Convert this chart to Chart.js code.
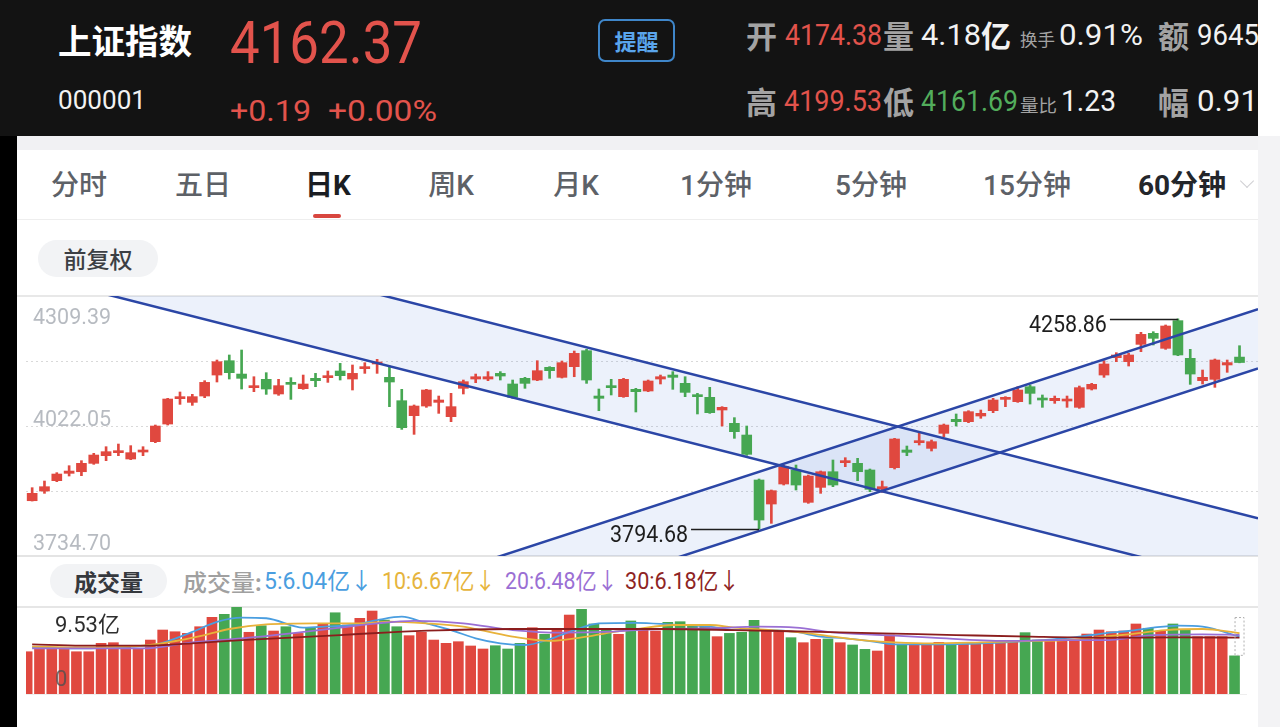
<!DOCTYPE html>
<html>
<head>
<meta charset="utf-8">
<script src="https://cdn.jsdelivr.net/npm/chart.js@4.4.1/dist/chart.umd.min.js"></script>
<style>
  body { margin: 0; width: 1280px; height: 727px; overflow: hidden; background: #fff; position: relative;
         font-family: Roboto, "Noto Sans CJK SC", sans-serif; }
  .a { position: absolute; white-space: nowrap; line-height: 1; transform-origin: 0 50%; }
  .cjk { font-family: "Noto Sans CJK SC", sans-serif; }
  .tab { position: absolute; top: 172px; width: 160px; text-align: center; font-size: 28px; line-height: 28px;
         color: #5d6167; font-weight: 500; }
  .pill { position: absolute; background: #f2f3f5; color: #3c3f44; text-align: center; font-family: "Noto Sans CJK SC"; }
  .hl { position: absolute; left: 17px; width: 1241px; background: #e5e5e5; }
</style>
</head>
<body>

<!-- header -->
<div style="position:absolute;left:0;top:0;width:1258px;height:136px;background:#131313;overflow:hidden">
  <div class="a cjk" data-w="134" style="left:58px;top:23px;font-size:34px;font-weight:700;color:#fff">上证指数</div>
  <div class="a" data-w="192" style="left:230px;top:13px;font-size:60px;color:#e2534c">4162.37</div>
  <div class="a" data-w="88" style="left:58px;top:88px;font-size:25px;color:#f2f2f2">000001</div>
  <div class="a" data-w="81" style="left:230px;top:96px;font-size:30px;color:#e2534c">+0.19</div>
  <div class="a" data-w="109" style="left:328px;top:96px;font-size:30px;color:#e2534c">+0.00%</div>
  <div style="position:absolute;left:598px;top:19px;width:77px;height:43px;box-sizing:border-box;border:2px solid #3f86c9;border-radius:7px;color:#5aa5ec;font:700 22px/39px 'Noto Sans CJK SC';text-align:center">提醒</div>

  <div class="a cjk" style="left:746px;top:19px;font-size:31px;font-weight:700;color:#a3a3a3">开</div>
  <div class="a" data-w="97" style="left:785px;top:20px;font-size:30px;color:#e2534c">4174.38</div>
  <div class="a cjk" style="left:883px;top:19px;font-size:31px;font-weight:700;color:#a3a3a3">量</div>
  <div class="a" data-w="60" style="left:921px;top:20px;font-size:30px;color:#f2f2f2">4.18</div>
  <div class="a cjk" style="left:981px;top:19px;font-size:30px;font-weight:700;color:#f2f2f2">亿</div>
  <div class="a cjk" data-w="35" style="left:1020px;top:30px;font-size:17px;color:#a3a3a3">换手</div>
  <div class="a" data-w="84" style="left:1059px;top:20px;font-size:30px;color:#f2f2f2">0.91%</div>
  <div class="a cjk" style="left:1158px;top:19px;font-size:31px;font-weight:700;color:#a3a3a3">额</div>
  <div class="a" data-w="62" style="left:1197px;top:20px;font-size:30px;color:#f2f2f2">9645</div>

  <div class="a cjk" style="left:746px;top:85px;font-size:31px;font-weight:700;color:#a3a3a3">高</div>
  <div class="a" data-w="98" style="left:784px;top:86px;font-size:30px;color:#e2534c">4199.53</div>
  <div class="a cjk" style="left:883px;top:85px;font-size:31px;font-weight:700;color:#a3a3a3">低</div>
  <div class="a" data-w="97" style="left:921px;top:86px;font-size:30px;color:#52ad5c">4161.69</div>
  <div class="a cjk" data-w="37" style="left:1020px;top:96px;font-size:17px;color:#a3a3a3">量比</div>
  <div class="a" data-w="55" style="left:1061px;top:86px;font-size:30px;color:#f2f2f2">1.23</div>
  <div class="a cjk" style="left:1158px;top:85px;font-size:31px;font-weight:700;color:#a3a3a3">幅</div>
  <div class="a" data-w="84" style="left:1197px;top:86px;font-size:30px;color:#f2f2f2">0.91%</div>
</div>

<!-- frame -->
<div style="position:absolute;left:0;top:136px;width:17px;height:591px;background:#000"></div>
<div style="position:absolute;left:1258px;top:136px;width:22px;height:591px;background:#f3f3f5"></div>
<div style="position:absolute;left:17px;top:136px;width:1241px;height:14px;background:#f1f1f3"></div>

<!-- tabs -->
<div class="tab" style="left:-1px">分时</div>
<div class="tab" style="left:123px">五日</div>
<div class="tab" style="left:248px;color:#1a1d22;font-weight:700">日K</div>
<div class="tab" style="left:371px">周K</div>
<div class="tab" style="left:496px">月K</div>
<div class="tab" style="left:636px">1分钟</div>
<div class="tab" style="left:791px">5分钟</div>
<div class="tab" style="left:947px">15分钟</div>
<div class="tab" style="left:1102px;color:#23262b;font-weight:700">60分钟</div>
<div style="position:absolute;left:1242px;top:176px;width:9px;height:9px;border-right:1.5px solid #cfcfd3;border-bottom:1.5px solid #cfcfd3;transform:rotate(45deg)"></div>
<div style="position:absolute;left:313px;top:214px;width:28px;height:4px;border-radius:2px;background:#d8463f"></div>
<div class="hl" style="top:219px;height:1px;background:#eeeeee"></div>

<div class="pill" style="left:38px;top:240px;width:120px;height:37px;border-radius:19px;font-size:23px;line-height:37px;font-weight:500">前复权</div>

<!-- chart frame lines -->
<div class="hl" style="top:295px;height:2px;background:#e8e8e8"></div>
<div class="hl" style="top:555px;height:2px;background:#e4e4e4"></div>
<canvas id="kline" width="1232" height="260" style="position:absolute;left:26px;top:296px"></canvas>

<!-- volume header -->
<div class="pill" style="left:50px;top:564px;width:117px;height:34px;border-radius:17px;font-size:23px;line-height:34px;font-weight:700;color:#35383d">成交量</div>
<div class="a cjk" data-w="79" style="left:183px;top:570px;font-size:23px;font-weight:500;color:#a0a0a0">成交量:</div>
<div class="a" data-w="109" style="left:264px;top:570px;font-size:23px;color:#4a9ee0">5:6.04亿↓</div>
<div class="a" data-w="114" style="left:382px;top:570px;font-size:23px;color:#e6b43c">10:6.67亿↓</div>
<div class="a" data-w="113" style="left:505px;top:570px;font-size:23px;color:#9a6fd4">20:6.48亿↓</div>
<div class="a" data-w="115" style="left:625px;top:570px;font-size:23px;color:#8e2424">30:6.18亿↓</div>
<div class="hl" style="top:606px;height:1.5px;background:#e6e6e6"></div>
<div style="position:absolute;left:26px;top:694px;width:1221px;height:1px;background:#eeeeee"></div>
<canvas id="vol" width="1232" height="87" style="position:absolute;left:26px;top:607px"></canvas>

<script>
// squeeze header texts to the widths seen in the screenshot (DIN-like narrow digits)
document.querySelectorAll('[data-w]').forEach(el => {
  const w = el.getBoundingClientRect().width;
  el.style.transform = 'scaleX(' + (el.dataset.w / w) + ')';
});

// ---- daily K data (99 sessions) ----
const openP = [3856.9,3878.3,3901.2,3917.4,3921.0,3939.5,3956.4,3963.1,3949.1,3964.5,
  3987.4,4026.4,4082.4,4074.3,4088.3,4134.7,4166.4,4136.9,4106.8,4125.2,
  4092.8,4117.8,4104.6,4127.4,4128.9,4143.6,4125.9,4148.8,4159.1,4129.6,
  4078.0,4044.9,4066.2,4074.3,4042.7,4105.3,4125.9,4125.9,4138.4,4114.9,
  4127.4,4123.7,4151.7,4129.6,4153.2,4188.5,4088.3,4111.2,4086.9,4103.1,
  4099.4,4125.9,4134.7,4116.3,4090.6,4085.4,4057.4,4027.9,4002.1,3902.7,
  3849.6,3893.8,3924.8,3853.3,3886.4,3921.0,3941.0,3939.5,3924.8,3882.8,
  3929.9,3969.0,3985.2,3972.6,4005.8,4036.8,4031.6,4044.1,4055.9,4080.9,
  4075.8,4108.9,4083.2,4078.0,4077.3,4063.3,4103.8,4134.7,4173.1,4164.2,
  4202.5,4226.9,4193.7,4254.9,4171.6,4122.2,4125.2,4156.9,4174.38];
const highP = [3885.7,3900.4,3918.9,3934.3,3945.4,3961.6,3976.3,3982.2,3978.6,3976.3,
  4024.2,4083.2,4097.2,4092.0,4122.2,4167.9,4179.0,4190.0,4131.0,4139.9,
  4125.2,4128.9,4134.7,4138.4,4143.6,4160.5,4156.9,4162.0,4169.4,4154.6,
  4103.1,4068.5,4103.1,4088.3,4094.2,4123.7,4136.9,4142.2,4142.2,4123.7,
  4129.6,4166.4,4153.2,4165.7,4187.8,4191.5,4103.8,4125.2,4127.4,4105.3,
  4123.7,4134.7,4142.2,4131.0,4094.2,4107.5,4064.8,4040.5,4022.0,3904.9,
  3880.6,3935.8,3935.8,3913.7,3922.6,3946.9,3952.0,3950.6,3927.0,3900.4,
  3994.8,3977.8,4005.8,3991.1,4026.4,4048.6,4055.9,4057.4,4083.2,4086.9,
  4108.9,4112.6,4090.6,4088.3,4088.3,4110.4,4116.3,4166.4,4184.1,4182.6,
  4229.1,4230.5,4245.3,4258.86,4191.5,4145.8,4170.1,4167.9,4199.53];
const lowP = [3856.2,3873.2,3899.0,3911.5,3912.2,3937.3,3945.4,3956.4,3947.6,3956.4,
  3985.2,4024.2,4069.9,4067.7,4084.6,4119.3,4125.9,4103.8,4097.9,4092.0,
  4089.8,4080.9,4103.1,4108.9,4118.5,4123.7,4101.6,4138.4,4138.4,4064.8,
  4014.6,4003.6,4063.3,4050.0,4031.6,4092.8,4117.8,4122.2,4123.7,4083.2,
  4105.3,4122.2,4127.4,4128.1,4131.0,4116.3,4055.9,4090.6,4085.4,4053.0,
  4097.9,4114.9,4103.1,4086.9,4048.6,4050.0,4022.0,3994.8,3957.2,3794.68,
  3806.9,3891.6,3880.6,3851.1,3873.2,3887.9,3932.1,3901.2,3876.9,3875.4,
  3927.0,3956.4,3980.0,3966.8,3998.4,4022.0,4029.4,4039.0,4051.5,4064.8,
  4074.3,4070.6,4063.3,4072.1,4063.3,4061.1,4101.6,4129.6,4164.2,4154.6,
  4186.3,4201.1,4191.5,4177.5,4114.1,4114.9,4107.5,4140.7,4161.69];
const closeP = [3873.2,3887.9,3915.9,3922.5,3939.5,3957.9,3965.3,3966.8,3963.1,3969.0,
  4022.0,4081.7,4086.9,4086.9,4118.5,4164.2,4139.9,4127.4,4110.4,4103.8,
  4111.2,4114.1,4114.9,4122.2,4133.3,4133.3,4138.4,4153.2,4162.0,4119.3,
  4018.3,4066.2,4101.6,4079.5,4064.8,4120.0,4131.0,4131.0,4132.5,4085.4,
  4116.3,4144.3,4144.3,4162.0,4182.6,4123.7,4083.2,4106.8,4125.2,4097.9,
  4121.5,4131.0,4129.6,4096.4,4086.9,4051.5,4063.3,4009.5,3959.4,3814.2,
  3879.1,3932.1,3891.6,3911.5,3921.0,3891.6,3945.4,3921.0,3882.0,3887.9,
  3993.3,3963.8,3989.6,3987.4,4024.2,4031.6,4053.7,4050.0,4079.5,4085.4,
  4101.6,4094.2,4079.5,4083.2,4080.9,4106.8,4114.1,4159.1,4179.0,4179.0,
  4224.6,4215.8,4243.1,4179.0,4136.9,4129.6,4167.9,4162.18,4162.37];

// volume in 亿 shares
const volume = [4.63,4.89,4.89,4.89,4.63,4.63,5.55,5.62,5.18,4.89,
  5.91,7.01,6.82,6.64,7.37,8.40,8.73,9.53,6.76,7.48,
  6.90,7.37,6.64,7.20,7.74,8.90,7.56,8.29,9.09,8.10,
  7.37,6.39,6.76,5.91,5.55,5.73,5.26,4.93,5.29,4.93,
  5.55,7.26,6.54,7.01,8.65,9.28,7.67,7.01,6.54,8.00,
  7.01,6.90,7.85,7.92,7.56,7.56,6.28,6.64,6.76,8.07,
  6.90,6.82,6.17,5.62,5.99,6.03,5.62,5.37,4.89,4.71,
  6.46,5.37,5.44,5.55,5.66,5.44,5.44,5.55,5.55,5.66,
  5.66,6.72,5.91,5.80,5.91,5.91,6.57,7.01,6.82,6.90,
  7.67,7.20,6.90,7.67,7.01,6.28,6.28,6.28,4.18];
const volumeMax = 9.53;
const volumeProjected = 8.43;

// volume moving averages (bar number, 亿)
const ma5Bars = [1,5,9,11,14,16,18,20,23,25,27,29,31,33,35,37,39,41,43,45,47,50,53,56,58,61,63,65,67,69,71,74,77,80,83,86,88,90,92,94,96,99];
const ma5Vals = [5.1,5.0,5.2,5.4,6.8,7.9,8.36,8.3,7.27,7.4,7.56,8.1,8.47,7.74,7.0,6.1,5.55,5.37,6.0,7.0,7.74,7.8,7.6,7.38,7.0,7.0,6.8,6.28,6.1,5.8,5.44,5.44,5.5,5.66,5.9,6.28,6.65,6.9,7.27,7.49,7.38,6.3];
const ma10Bars = [1,5,10,12,15,17,20,24,28,30,33,36,38,40,43,46,48,50,53,56,58,61,64,66,69,71,74,78,82,85,88,90,93,96,99];
const ma10Vals = [5.2,5.1,5.3,5.66,6.46,7.12,7.63,7.74,7.74,7.92,7.74,7.38,6.83,6.28,5.81,6.28,6.76,7.12,7.56,7.56,7.27,7.0,6.65,6.28,5.81,5.66,5.55,5.66,5.81,5.9,6.28,6.54,7.0,7.12,6.67];
const ma20Bars = [1,10,14,18,22,26,29,32,36,40,44,48,50,53,56,60,63,66,70,74,80,84,88,92,96,99];
const ma20Vals = [5.0,5.0,5.66,6.1,6.65,7.27,7.74,8.0,7.74,7.0,6.72,6.83,7.01,7.12,7.2,7.38,7.27,6.76,6.46,6.17,5.81,5.9,5.9,6.46,6.54,6.48];
const ma30Bars = [1,5,10,14,18,22,26,30,34,40,46,52,58,64,70,76,82,88,94,99];
const ma30Vals = [5.44,5.29,5.29,5.55,5.9,6.17,6.46,6.76,6.97,7.12,7.12,7.12,7.0,6.83,6.65,6.46,6.28,6.17,6.2,6.18];

// price axis
const priceMin = 3734.70, priceMax = 4309.39;
const priceLabels = [4309.39, 4022.05, 3734.70];
const gridValues = [4165.72, 4022.05, 3878.37];

// hand-drawn channel lines, ends at slot -0.5 and 99.5
const channelX = [-0.5, 99.5];
const downLower = [4358.2, 3666.7];
const downUpper = [4511.5, 3818.0];
const upUpper = [3392.6, 4280.4];
const upLower = [3262.0, 4149.5];

// highest / lowest marks
const markIndex = [59, 93];
const markValue = [3794.68, 4258.86];

const slots = 100; // one empty slot on the right
const labels = Array.from({ length: slots }, (_, i) => String(i + 1));

const RED = '#e0483f';
const GREEN = '#46a752';
const candleColors = openP.map((o, i) => closeP[i] >= o ? RED : GREEN);
const BLUE = '#2b46a6';
const BAND = 'rgba(70, 120, 215, 0.1)';

// linear twin of the category axis, used by the free lines
const slotAxis = { type: 'linear', display: false, offset: false, grid: { offset: false }, min: -0.5, max: slots - 0.5 };

function channel(vals, fill) {
  return {
    type: 'line',
    xAxisID: 'x2',
    data: channelX.map((x, i) => ({ x: x, y: vals[i] })),
    borderColor: BLUE,
    borderWidth: 2.5,
    pointRadius: 0,
    tension: 0,
    fill: fill,
    backgroundColor: BAND,
    order: 0
  };
}

const kDecor = {
  id: 'kDecor',
  beforeDraw(chart) {
    const { ctx, chartArea: a, scales: { y } } = chart;
    ctx.save();
    ctx.strokeStyle = '#d9d9d9';
    ctx.lineWidth = 1;
    ctx.setLineDash([2, 3]);
    gridValues.forEach(v => {
      const py = Math.round(y.getPixelForValue(v)) + 0.5;
      ctx.beginPath(); ctx.moveTo(a.left, py); ctx.lineTo(a.right, py); ctx.stroke();
    });
    ctx.restore();
  },
  afterDatasetsDraw(chart) {
    const { ctx, scales: { x, y } } = chart;
    ctx.save();
    ctx.font = '22px Roboto';
    ctx.fillStyle = '#b7bbc1';
    ctx.textAlign = 'left';
    const shift = [28, 0, -6];
    priceLabels.forEach((v, i) => ctx.fillText(v.toFixed(2), 7, y.getPixelForValue(v) + shift[i], 78));

    ctx.strokeStyle = '#1e1e1e';
    ctx.fillStyle = '#1e1e1e';
    ctx.lineWidth = 1.5;
    ctx.font = '23px Roboto';
    ctx.textAlign = 'right';
    markIndex.forEach((idx, i) => {
      const px = x.getPixelForValue(idx);
      const py = Math.round(y.getPixelForValue(markValue[i])) + 0.5;
      ctx.beginPath(); ctx.moveTo(px - 68, py); ctx.lineTo(px, py); ctx.stroke();
      ctx.fillText(markValue[i].toFixed(2), px - 71, py + 12, 78);
    });
    ctx.restore();
  }
};

new Chart(document.getElementById('kline'), {
  type: 'bar',
  data: {
    labels: labels,
    datasets: [
      {
        data: lowP.map((l, i) => [l, highP[i]]),
        backgroundColor: candleColors,
        barThickness: 2,
        grouped: false,
        order: 2
      },
      {
        data: openP.map((o, i) => [o, closeP[i]]),
        backgroundColor: candleColors,
        barThickness: 10,
        minBarLength: 2,
        grouped: false,
        order: 1
      },
      channel(downLower, false),
      channel(downUpper, '-1'),
      channel(upUpper, false),
      channel(upLower, '-1')
    ]
  },
  options: {
    responsive: false,
    animation: false,
    devicePixelRatio: 1,
    layout: { padding: 0 },
    plugins: {
      legend: { display: false },
      tooltip: { enabled: false },
      filler: { drawTime: 'beforeDatasetsDraw' }
    },
    scales: {
      x: { display: false, offset: true },
      x2: slotAxis,
      y: { display: false, min: priceMin, max: priceMax }
    }
  },
  plugins: [kDecor]
});

function maLine(bars, vals, color) {
  return {
    type: 'line',
    xAxisID: 'x2',
    data: bars.map((b, i) => ({ x: b - 1, y: vals[i] })),
    borderColor: color,
    borderWidth: 1.8,
    pointRadius: 0,
    cubicInterpolationMode: 'monotone',
    fill: false,
    order: 0
  };
}

const vDecor = {
  id: 'vDecor',
  afterDatasetsDraw(chart) {
    const { ctx, scales: { x, y } } = chart;
    ctx.save();
    const last = volume.length - 1;
    const px = x.getPixelForValue(last);
    const top = y.getPixelForValue(volumeProjected);
    const bot = y.getPixelForValue(volume[last]);
    ctx.setLineDash([2, 2]);
    ctx.strokeStyle = '#b0b0b0';
    ctx.lineWidth = 1;
    ctx.strokeRect(px - 4.5, top + 0.5, 9, bot - top - 1);
    ctx.setLineDash([]);
    ctx.font = '22px Roboto, "Noto Sans CJK SC"';
    ctx.textBaseline = 'middle';
    ctx.fillStyle = '#2e2e2e';
    ctx.fillText(volumeMax.toFixed(2) + '亿', 29, 19);
    ctx.fillStyle = 'rgba(80,80,80,0.8)';
    ctx.fillText('0', 29, 73);
    ctx.restore();
  }
};

new Chart(document.getElementById('vol'), {
  type: 'bar',
  data: {
    labels: labels,
    datasets: [
      {
        data: volume,
        backgroundColor: candleColors,
        barThickness: 10,
        order: 1
      },
      maLine(ma30Bars, ma30Vals, '#8b1d1d'),
      maLine(ma20Bars, ma20Vals, '#9a6fd4'),
      maLine(ma10Bars, ma10Vals, '#e8b23a'),
      maLine(ma5Bars, ma5Vals, '#4a9ee0')
    ]
  },
  options: {
    responsive: false,
    animation: false,
    devicePixelRatio: 1,
    layout: { padding: 0 },
    plugins: { legend: { display: false }, tooltip: { enabled: false } },
    scales: {
      x: { display: false, offset: true },
      x2: slotAxis,
      y: { display: false, min: 0, max: volumeMax }
    }
  },
  plugins: [vDecor]
});
</script>
</body>
</html>
